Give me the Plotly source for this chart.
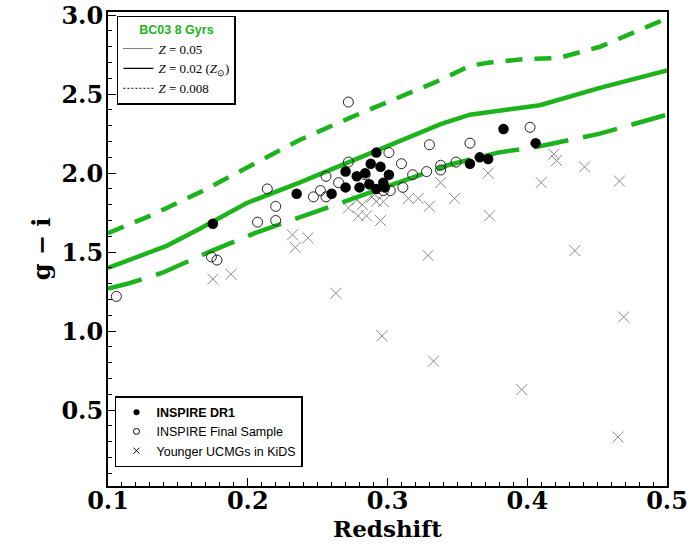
import plotly.graph_objects as go

# ---- Model tracks (BC03 8 Gyr) ----
z_m005 = [0.100, 0.130, 0.166, 0.202, 0.237, 0.273, 0.309, 0.338, 0.359, 0.373, 0.395, 0.423, 0.452, 0.481, 0.500]
gi_m005 = [1.62, 1.73, 1.88, 2.05, 2.21, 2.35, 2.48, 2.59, 2.68, 2.70, 2.72, 2.73, 2.80, 2.91, 2.98]

z_m002 = [0.100, 0.118, 0.142, 0.166, 0.199, 0.237, 0.259, 0.295, 0.316, 0.338, 0.359, 0.409, 0.452, 0.500]
gi_m002 = [1.40, 1.46, 1.54, 1.65, 1.81, 1.94, 2.02, 2.15, 2.23, 2.31, 2.37, 2.43, 2.54, 2.65]

z_m0008 = [0.100, 0.114, 0.139, 0.172, 0.205, 0.237, 0.275, 0.309, 0.343, 0.379, 0.409, 0.452, 0.500]
gi_m0008 = [1.27, 1.30, 1.37, 1.50, 1.62, 1.72, 1.84, 1.94, 2.05, 2.13, 2.17, 2.25, 2.37]

# ---- INSPIRE DR1 (filled) ----
z_dr1 = [0.175, 0.235, 0.260, 0.270, 0.270, 0.278, 0.280, 0.287, 0.288, 0.292, 0.295, 0.297,
         0.301, 0.298, 0.292, 0.383, 0.406, 0.366, 0.372, 0.359, 0.284]
gi_dr1 = [1.68, 1.87, 1.87, 2.01, 1.91, 1.98, 1.91, 1.93, 2.06, 2.13, 2.04, 1.94,
          1.99, 1.91, 1.90, 2.28, 2.19, 2.10, 2.09, 2.06, 2.00]

# ---- INSPIRE Final Sample (open) ----
z_fin = [0.106, 0.174, 0.178, 0.207, 0.214, 0.220, 0.220, 0.272, 0.247, 0.252, 0.256, 0.256,
         0.265, 0.272, 0.284, 0.301, 0.310, 0.311, 0.302, 0.297, 0.318, 0.328, 0.330, 0.338,
         0.338, 0.349, 0.359, 0.402]
gi_fin = [1.22, 1.47, 1.45, 1.69, 1.90, 1.79, 1.70, 2.45, 1.85, 1.89, 1.85, 1.98,
          1.94, 2.07, 1.99, 2.13, 2.06, 1.91, 1.89, 1.89, 1.99, 2.01, 2.18, 2.05,
          2.02, 2.07, 2.19, 2.29]

# ---- Younger UCMGs in KiDS (crosses) ----
z_kids = [0.175, 0.188, 0.232, 0.234, 0.243, 0.263, 0.272, 0.278, 0.282, 0.279, 0.285, 0.295,
          0.289, 0.292, 0.297, 0.296, 0.315, 0.322, 0.330, 0.338, 0.348, 0.372, 0.373, 0.329,
          0.333, 0.410, 0.421, 0.419, 0.441, 0.466, 0.434, 0.469, 0.396, 0.465, 0.290]
gi_kids = [1.33, 1.36, 1.61, 1.53, 1.59, 1.24, 1.78, 1.83, 1.80, 1.73, 1.73, 1.70,
           1.85, 1.82, 1.82, 0.97, 1.84, 1.84, 1.79, 1.94, 1.84, 2.00, 1.73, 1.48,
           0.81, 1.94, 2.08, 2.12, 2.04, 1.95, 1.51, 1.09, 0.63, 0.33, 1.87]

GREEN = "#1DB31D"
SERIF = "DejaVu Serif"

fig = go.Figure()

# crosses first
fig.add_trace(go.Scatter(x=z_kids, y=gi_kids, mode="markers", showlegend=False,
                         marker=dict(symbol="x-thin-open", size=11, color="#8a8a8a",
                                     line=dict(width=1, color="#8a8a8a"))))

# model lines
fig.add_trace(go.Scatter(x=z_m005, y=gi_m005, mode="lines", showlegend=False,
                         line=dict(color=GREEN, width=4.5, dash="17px,12px")))
fig.add_trace(go.Scatter(x=z_m002, y=gi_m002, mode="lines", showlegend=False,
                         line=dict(color=GREEN, width=4.5)))
fig.add_trace(go.Scatter(x=z_m0008, y=gi_m0008, mode="lines", showlegend=False,
                         line=dict(color=GREEN, width=4.5, dash="35px,15px")))

# open circles
fig.add_trace(go.Scatter(x=z_fin, y=gi_fin, mode="markers", showlegend=False,
                         marker=dict(symbol="circle-open", size=10, color="#222222",
                                     line=dict(width=1, color="#222222"))))
# filled circles
fig.add_trace(go.Scatter(x=z_dr1, y=gi_dr1, mode="markers", showlegend=False,
                         marker=dict(symbol="circle", size=10.5, color="black",
                                     line=dict(width=0))))

# legend entries (top-left box)
fig.add_trace(go.Scatter(x=[None], y=[None], mode="lines", name="<i>Z</i> = 0.05",
                         line=dict(color="black", width=1, dash="1px,1px"), legend="legend"))
fig.add_trace(go.Scatter(x=[None], y=[None], mode="lines", name="<i>Z</i> = 0.02 (<i>Z</i><sub>⊙</sub>)",
                         line=dict(color="black", width=1.3), legend="legend"))
fig.add_trace(go.Scatter(x=[None], y=[None], mode="lines", name="<i>Z</i> = 0.008",
                         line=dict(color="black", width=1, dash="2px,2px"), legend="legend"))

# legend entries (bottom-left box)
fig.add_trace(go.Scatter(x=[None], y=[None], mode="markers", name="<b>INSPIRE DR1</b>",
                         marker=dict(symbol="circle", size=6, color="black"), legend="legend2"))
fig.add_trace(go.Scatter(x=[None], y=[None], mode="markers", name="INSPIRE Final Sample",
                         marker=dict(symbol="circle-open", size=6, color="black",
                                     line=dict(width=1, color="black")), legend="legend2"))
fig.add_trace(go.Scatter(x=[None], y=[None], mode="markers", name="Younger UCMGs in KiDS",
                         marker=dict(symbol="x-thin-open", size=6, color="black",
                                     line=dict(width=1, color="black")), legend="legend2"))

axis_common = dict(showline=True, linewidth=2, linecolor="black", mirror=True,
                   ticks="inside", ticklen=8, tickwidth=1.2, tickcolor="black",
                   showgrid=False, zeroline=False, automargin=False,
                   ticklabeloverflow="allow",
                   tickfont=dict(family=SERIF, size=24, color="black", weight="bold"))

fig.update_layout(
    width=691, height=544,
    margin=dict(l=108, r=24, t=12, b=58),
    paper_bgcolor="white", plot_bgcolor="white",
    showlegend=True,
    xaxis=dict(range=[0.1, 0.5], dtick=0.1, tickformat=".1f", ticklabelstandoff=-8,
               minor=dict(dtick=0.01, ticks="inside", ticklen=4, tickcolor="black", tickwidth=1),
               title=dict(text="Redshift", font=dict(family=SERIF, size=23, color="black", weight="bold"),
                          standoff=2),
               **axis_common),
    yaxis=dict(range=[0.02, 3.02], tickvals=[0.5, 1.0, 1.5, 2.0, 2.5, 3.0], tickformat=".1f",
               ticklabelstandoff=-2,
               minor=dict(dtick=0.1, tick0=0, ticks="inside", ticklen=4, tickcolor="black", tickwidth=1),
               title=dict(text="g − i", font=dict(family=SERIF, size=24, color="black", weight="bold"),
                          standoff=4),
               **axis_common),
    legend=dict(x=0.016, y=0.992, xanchor="left", yanchor="top",
                bgcolor="white", bordercolor="black", borderwidth=1.5,
                font=dict(family="Liberation Serif", size=13, color="black"),
                title=dict(text="<b>BC03 8 Gyrs</b>", side="top center",
                           font=dict(family="Liberation Sans", size=12.5, color=GREEN)),
                itemwidth=30, tracegroupgap=0),
    legend2=dict(x=0.0125, y=0.04, xanchor="left", yanchor="bottom",
                 bgcolor="white", bordercolor="black", borderwidth=1.5,
                 font=dict(family="Liberation Sans", size=12.5, color="black"),
                 itemwidth=30, tracegroupgap=0),
)

# remove the page's default 8px body margin so the figure fills the window exactly
fig.write_html("out.html", config={"displayModeBar": False},
               post_script="document.body.style.margin='0';")
